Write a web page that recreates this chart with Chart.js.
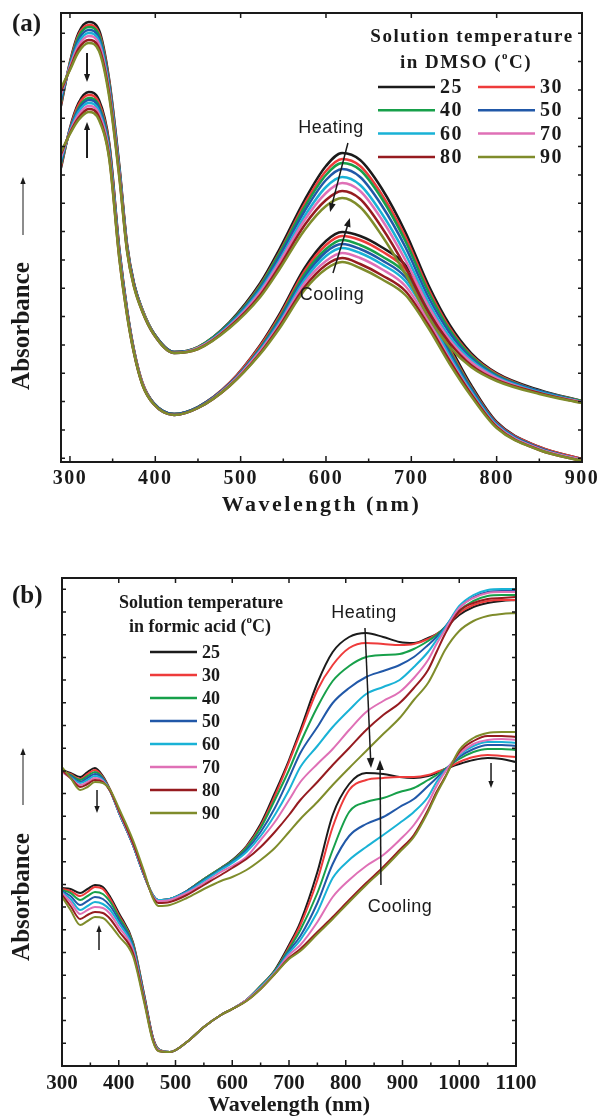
<!DOCTYPE html>
<html>
<head>
  <title>Absorbance spectra on heating and cooling</title>
  <script src="https://cdn.jsdelivr.net/npm/chart.js"></script>
  <style>
    body { margin: 0; background: #fff; }
    .wrap { position: relative; width: 602px; height: 1116px; }
    canvas { position: absolute; left: 0; }
    #chartA { top: 0; }
    #chartB { top: 530px; }
  </style>
</head>
<body>
<div class="wrap">
  <canvas id="chartA" width="602" height="530"></canvas>
  <canvas id="chartB" width="602" height="586"></canvas>
</div>

<script>
  // --- Shared series info ---
  const temps = ['25', '30', '40', '50', '60', '70', '80', '90'];
  const colors = ['#1b1b1b', '#ee3b3b', '#17a04a', '#2158a8', '#19b2d6', '#df70b6', '#961b20', '#7f8c2b'];
  const ink = '#1a1a1a';

  // --- (a) DMSO: wavelength nodes (nm) and absorbance (a.u.), one row per temperature ---
  const wlA = [289.5, 300, 310, 322, 334, 346, 358, 367, 375, 385, 398, 422, 450, 487,
               523, 545, 575, 600, 619, 640, 665, 693, 720, 745, 770, 800, 850, 900];
  const heatA = [
    [1.78, 2.00, 2.145, 2.20, 2.16, 1.91, 1.475, 1.085, 0.895, 0.76, 0.645, 0.55, 0.575, 0.70, 0.895, 1.06, 1.31, 1.48, 1.545, 1.51, 1.37, 1.15, 0.885, 0.685, 0.545, 0.445, 0.36, 0.305],
    [1.79, 1.995, 2.135, 2.185, 2.145, 1.90, 1.465, 1.08, 0.89, 0.76, 0.645, 0.55, 0.575, 0.695, 0.885, 1.045, 1.29, 1.455, 1.515, 1.48, 1.34, 1.125, 0.865, 0.67, 0.535, 0.44, 0.355, 0.305],
    [1.80, 1.99, 2.125, 2.175, 2.135, 1.89, 1.46, 1.075, 0.89, 0.76, 0.645, 0.55, 0.575, 0.695, 0.88, 1.04, 1.275, 1.435, 1.495, 1.46, 1.32, 1.105, 0.85, 0.66, 0.53, 0.435, 0.355, 0.305],
    [1.81, 1.985, 2.11, 2.16, 2.12, 1.88, 1.455, 1.07, 0.89, 0.755, 0.645, 0.55, 0.57, 0.69, 0.87, 1.025, 1.255, 1.41, 1.465, 1.425, 1.285, 1.075, 0.825, 0.645, 0.52, 0.43, 0.355, 0.30],
    [1.83, 1.98, 2.095, 2.145, 2.105, 1.865, 1.445, 1.065, 0.885, 0.755, 0.64, 0.545, 0.57, 0.685, 0.86, 1.005, 1.23, 1.375, 1.425, 1.385, 1.245, 1.04, 0.80, 0.625, 0.51, 0.425, 0.35, 0.30],
    [1.84, 1.975, 2.08, 2.13, 2.09, 1.855, 1.435, 1.06, 0.88, 0.755, 0.64, 0.545, 0.57, 0.68, 0.85, 0.995, 1.21, 1.345, 1.395, 1.355, 1.215, 1.01, 0.78, 0.61, 0.50, 0.42, 0.345, 0.30],
    [1.855, 1.965, 2.065, 2.11, 2.07, 1.84, 1.425, 1.055, 0.88, 0.75, 0.64, 0.545, 0.565, 0.675, 0.835, 0.975, 1.185, 1.31, 1.355, 1.315, 1.175, 0.975, 0.75, 0.595, 0.485, 0.41, 0.345, 0.295],
    [1.87, 1.96, 2.05, 2.095, 2.055, 1.825, 1.415, 1.05, 0.875, 0.75, 0.64, 0.545, 0.565, 0.67, 0.825, 0.96, 1.16, 1.28, 1.32, 1.275, 1.135, 0.94, 0.725, 0.575, 0.475, 0.405, 0.34, 0.295]
  ];
  const coolA = [
    [1.47, 1.67, 1.795, 1.85, 1.81, 1.595, 1.06, 0.76, 0.56, 0.395, 0.295, 0.24, 0.275, 0.395, 0.585, 0.735, 0.97, 1.105, 1.15, 1.13, 1.075, 0.985, 0.795, 0.58, 0.385, 0.20, 0.075, 0.015],
    [1.48, 1.665, 1.785, 1.835, 1.795, 1.585, 1.055, 0.755, 0.56, 0.395, 0.295, 0.24, 0.275, 0.395, 0.58, 0.725, 0.955, 1.085, 1.13, 1.11, 1.055, 0.965, 0.775, 0.565, 0.375, 0.195, 0.075, 0.015],
    [1.49, 1.66, 1.77, 1.82, 1.78, 1.575, 1.045, 0.75, 0.555, 0.39, 0.295, 0.24, 0.275, 0.39, 0.57, 0.715, 0.94, 1.065, 1.11, 1.085, 1.03, 0.945, 0.76, 0.555, 0.37, 0.19, 0.07, 0.01],
    [1.50, 1.66, 1.76, 1.81, 1.77, 1.565, 1.04, 0.75, 0.555, 0.39, 0.295, 0.24, 0.275, 0.39, 0.565, 0.705, 0.925, 1.05, 1.09, 1.065, 1.01, 0.925, 0.745, 0.545, 0.365, 0.19, 0.07, 0.01],
    [1.515, 1.655, 1.75, 1.795, 1.755, 1.55, 1.035, 0.745, 0.55, 0.39, 0.29, 0.235, 0.27, 0.385, 0.56, 0.695, 0.91, 1.03, 1.07, 1.045, 0.99, 0.905, 0.725, 0.53, 0.355, 0.185, 0.065, 0.01],
    [1.525, 1.65, 1.735, 1.78, 1.74, 1.54, 1.025, 0.74, 0.55, 0.39, 0.29, 0.235, 0.27, 0.385, 0.555, 0.685, 0.895, 1.005, 1.045, 1.02, 0.965, 0.88, 0.705, 0.515, 0.345, 0.18, 0.065, 0.01],
    [1.54, 1.645, 1.72, 1.765, 1.725, 1.525, 1.015, 0.735, 0.545, 0.385, 0.29, 0.235, 0.27, 0.38, 0.545, 0.675, 0.875, 0.985, 1.02, 0.99, 0.935, 0.855, 0.685, 0.505, 0.34, 0.175, 0.06, 0.005],
    [1.55, 1.64, 1.71, 1.75, 1.71, 1.515, 1.01, 0.73, 0.545, 0.385, 0.29, 0.235, 0.27, 0.38, 0.54, 0.665, 0.86, 0.965, 1.0, 0.97, 0.915, 0.835, 0.67, 0.49, 0.33, 0.17, 0.06, 0.005]
  ];
  const ticksA = [300, 400, 500, 600, 700, 800, 900];

  // --- (b) formic acid ---
  const wlB = [300, 315, 332, 345, 358, 372, 385, 400, 425, 445, 460, 470, 490, 520, 550, 580, 600, 625, 650,
               675, 700, 720, 750, 777, 806, 836, 866, 895, 920, 945, 960, 975, 1000, 1025, 1050, 1075, 1100];
  const heatB = [
    [1.48, 1.465, 1.445, 1.47, 1.49, 1.45, 1.38, 1.27, 1.105, 0.95, 0.855, 0.83, 0.835, 0.875, 0.935, 0.99, 1.03, 1.10, 1.21, 1.365, 1.53, 1.68, 1.915, 2.07, 2.145, 2.165, 2.145, 2.12, 2.115, 2.14, 2.16, 2.19, 2.255, 2.295, 2.315, 2.325, 2.33],
    [1.475, 1.46, 1.435, 1.46, 1.48, 1.445, 1.38, 1.27, 1.105, 0.95, 0.855, 0.83, 0.835, 0.875, 0.935, 0.99, 1.025, 1.095, 1.20, 1.35, 1.52, 1.665, 1.88, 2.005, 2.09, 2.115, 2.11, 2.105, 2.11, 2.135, 2.16, 2.19, 2.265, 2.305, 2.325, 2.33, 2.33],
    [1.475, 1.455, 1.43, 1.45, 1.47, 1.44, 1.375, 1.27, 1.105, 0.95, 0.855, 0.83, 0.835, 0.875, 0.935, 0.99, 1.025, 1.09, 1.19, 1.33, 1.48, 1.615, 1.795, 1.925, 2.00, 2.045, 2.055, 2.06, 2.085, 2.125, 2.155, 2.195, 2.275, 2.325, 2.35, 2.355, 2.355],
    [1.47, 1.45, 1.42, 1.44, 1.46, 1.435, 1.375, 1.27, 1.105, 0.95, 0.855, 0.83, 0.835, 0.875, 0.93, 0.985, 1.02, 1.08, 1.17, 1.29, 1.44, 1.565, 1.695, 1.815, 1.89, 1.945, 1.975, 2.005, 2.045, 2.105, 2.145, 2.195, 2.29, 2.345, 2.37, 2.375, 2.375],
    [1.47, 1.445, 1.415, 1.43, 1.45, 1.43, 1.375, 1.27, 1.105, 0.95, 0.855, 0.83, 0.835, 0.87, 0.925, 0.98, 1.015, 1.07, 1.15, 1.255, 1.38, 1.495, 1.60, 1.695, 1.78, 1.86, 1.895, 1.93, 1.995, 2.07, 2.13, 2.19, 2.30, 2.355, 2.38, 2.385, 2.385],
    [1.47, 1.44, 1.405, 1.42, 1.44, 1.425, 1.375, 1.275, 1.11, 0.955, 0.85, 0.825, 0.83, 0.865, 0.915, 0.97, 1.00, 1.045, 1.13, 1.22, 1.33, 1.42, 1.51, 1.585, 1.68, 1.77, 1.825, 1.87, 1.94, 2.03, 2.11, 2.18, 2.29, 2.34, 2.365, 2.37, 2.37],
    [1.48, 1.44, 1.395, 1.41, 1.43, 1.42, 1.375, 1.28, 1.115, 0.96, 0.845, 0.815, 0.82, 0.855, 0.905, 0.955, 0.99, 1.035, 1.095, 1.17, 1.255, 1.33, 1.42, 1.505, 1.59, 1.68, 1.755, 1.815, 1.89, 1.98, 2.07, 2.16, 2.275, 2.315, 2.335, 2.34, 2.345],
    [1.495, 1.44, 1.38, 1.395, 1.42, 1.415, 1.38, 1.29, 1.13, 0.97, 0.84, 0.80, 0.805, 0.84, 0.885, 0.925, 0.945, 0.98, 1.03, 1.09, 1.17, 1.235, 1.32, 1.405, 1.49, 1.575, 1.66, 1.74, 1.83, 1.915, 1.995, 2.08, 2.175, 2.225, 2.25, 2.26, 2.265]
  ];
  const coolB = [
    [0.89, 0.885, 0.865, 0.885, 0.905, 0.895, 0.845, 0.765, 0.62, 0.355, 0.145, 0.085, 0.07, 0.12, 0.195, 0.255, 0.285, 0.33, 0.40, 0.48, 0.605, 0.72, 0.97, 1.255, 1.41, 1.465, 1.46, 1.445, 1.44, 1.45, 1.465, 1.485, 1.51, 1.53, 1.54, 1.535, 1.52],
    [0.885, 0.875, 0.85, 0.87, 0.895, 0.885, 0.835, 0.755, 0.615, 0.35, 0.145, 0.085, 0.07, 0.12, 0.195, 0.255, 0.285, 0.33, 0.40, 0.475, 0.595, 0.705, 0.93, 1.195, 1.38, 1.43, 1.44, 1.445, 1.445, 1.455, 1.47, 1.485, 1.52, 1.545, 1.555, 1.55, 1.545],
    [0.88, 0.865, 0.83, 0.85, 0.87, 0.86, 0.82, 0.745, 0.61, 0.345, 0.14, 0.085, 0.07, 0.12, 0.195, 0.255, 0.285, 0.33, 0.40, 0.475, 0.585, 0.68, 0.865, 1.08, 1.27, 1.32, 1.34, 1.37, 1.39, 1.43, 1.455, 1.485, 1.535, 1.57, 1.585, 1.585, 1.58],
    [0.875, 0.85, 0.805, 0.825, 0.845, 0.835, 0.80, 0.73, 0.60, 0.34, 0.14, 0.08, 0.07, 0.12, 0.195, 0.255, 0.285, 0.33, 0.395, 0.47, 0.575, 0.65, 0.815, 1.01, 1.15, 1.21, 1.245, 1.295, 1.335, 1.40, 1.44, 1.48, 1.545, 1.585, 1.605, 1.605, 1.60],
    [0.87, 0.835, 0.78, 0.80, 0.82, 0.81, 0.78, 0.715, 0.59, 0.335, 0.135, 0.08, 0.07, 0.12, 0.195, 0.255, 0.285, 0.33, 0.395, 0.47, 0.565, 0.63, 0.77, 0.94, 1.03, 1.095, 1.155, 1.215, 1.27, 1.345, 1.42, 1.475, 1.555, 1.60, 1.62, 1.62, 1.615],
    [0.865, 0.82, 0.76, 0.78, 0.795, 0.79, 0.76, 0.695, 0.58, 0.33, 0.135, 0.08, 0.07, 0.12, 0.195, 0.255, 0.285, 0.33, 0.39, 0.465, 0.555, 0.605, 0.72, 0.845, 0.93, 1.00, 1.055, 1.13, 1.205, 1.315, 1.40, 1.47, 1.56, 1.61, 1.63, 1.635, 1.63],
    [0.855, 0.80, 0.735, 0.755, 0.77, 0.765, 0.735, 0.675, 0.565, 0.325, 0.13, 0.075, 0.07, 0.12, 0.195, 0.255, 0.285, 0.325, 0.385, 0.46, 0.54, 0.585, 0.67, 0.745, 0.83, 0.915, 0.995, 1.08, 1.155, 1.28, 1.37, 1.445, 1.57, 1.625, 1.65, 1.65, 1.645],
    [0.845, 0.78, 0.705, 0.725, 0.745, 0.74, 0.705, 0.65, 0.55, 0.315, 0.125, 0.075, 0.07, 0.12, 0.195, 0.255, 0.285, 0.325, 0.385, 0.46, 0.535, 0.575, 0.66, 0.735, 0.82, 0.905, 0.985, 1.07, 1.145, 1.27, 1.36, 1.44, 1.58, 1.64, 1.665, 1.67, 1.67]
  ];
  const ticksB = [300, 400, 500, 600, 700, 800, 900, 1000, 1100];

  // --- Helpers ---
  const serif = (size) => `bold ${size}px "Liberation Serif", "Times New Roman", serif`;
  const sans = (size) => `${size}px "Liberation Sans", Arial, sans-serif`;

  function makeSets(wl, heat, cool, width) {
    const sets = [];
    [heat, cool].forEach(group => {
      group.forEach((row, i) => {
        sets.push({
          label: temps[i],
          data: row.map((v, k) => ({ x: wl[k], y: v })),
          borderColor: colors[i],
          borderWidth: width,
          pointRadius: 0,
          fill: false,
          cubicInterpolationMode: 'monotone',
          order: temps.length - i
        });
      });
    });
    return sets;
  }

  function text(ctx, s, x, y, font, align, spacing) {
    ctx.font = font;
    ctx.letterSpacing = spacing || '0px';
    ctx.textAlign = align || 'center';
    ctx.textBaseline = 'middle';
    ctx.fillText(s, x, y);
  }

  // "pre (" + raised o + "C)" centred on cx
  function degreeText(ctx, pre, cx, cy, size, spacing) {
    ctx.letterSpacing = spacing || '0px';
    ctx.textBaseline = 'middle';
    ctx.textAlign = 'left';
    const small = serif(Math.round(size * 0.6));
    ctx.font = serif(size);
    const w1 = ctx.measureText(pre).width;
    const w3 = ctx.measureText('C)').width;
    ctx.font = small;
    const w2 = ctx.measureText('o').width;
    let x0 = cx - (w1 + w2 + w3) / 2;
    ctx.font = serif(size);
    ctx.fillText(pre, x0, cy);
    ctx.font = small;
    ctx.fillText('o', x0 + w1, cy - size * 0.38);
    ctx.font = serif(size);
    ctx.fillText('C)', x0 + w1 + w2, cy);
  }

  function arrow(ctx, x1, y1, x2, y2, lw, head) {
    const ang = Math.atan2(y2 - y1, x2 - x1);
    const c = Math.cos(ang), s = Math.sin(ang);
    ctx.lineWidth = lw;
    ctx.beginPath();
    ctx.moveTo(x1, y1);
    ctx.lineTo(x2 - c * head * 0.7, y2 - s * head * 0.7);
    ctx.stroke();
    ctx.beginPath();
    ctx.moveTo(x2, y2);
    ctx.lineTo(x2 - head * c + head * 0.38 * s, y2 - head * s - head * 0.38 * c);
    ctx.lineTo(x2 - head * c - head * 0.38 * s, y2 - head * s + head * 0.38 * c);
    ctx.closePath();
    ctx.fill();
  }

  // frame, inward ticks, legend and notes
  const decor = {
    id: 'decor',
    beforeDraw(chart, args, o) {
      chart.ctx.letterSpacing = o.tickSpacing;
    },
    afterDraw(chart, args, o) {
      const { ctx, chartArea: a } = chart;
      const xs = chart.scales.x, ys = chart.scales.y;
      ctx.save();
      ctx.letterSpacing = '0px';
      ctx.strokeStyle = ink;
      ctx.fillStyle = ink;

      ctx.lineWidth = 2;
      ctx.strokeRect(a.left, a.top, a.right - a.left, a.bottom - a.top);

      ctx.lineWidth = 1.5;
      ctx.beginPath();
      const first = o.xTicks[0], last = o.xTicks[o.xTicks.length - 1];
      for (let v = first; v <= last; v += 50) {
        const px = xs.getPixelForValue(v);
        const major = v % 100 === 0;
        ctx.moveTo(px, a.bottom);
        ctx.lineTo(px, a.bottom - (major ? 6 : 3.5));
        if (major) {
          ctx.moveTo(px, a.top);
          ctx.lineTo(px, a.top + 5);
        }
      }
      for (let v = o.yFirst; v < ys.max; v += o.yStep) {
        const py = ys.getPixelForValue(v);
        ctx.moveTo(a.left, py); ctx.lineTo(a.left + 4, py);
        ctx.moveTo(a.right, py); ctx.lineTo(a.right - 4, py);
      }
      ctx.stroke();

      // panel letter and axis titles
      text(ctx, o.panel, o.panelPos[0], o.panelPos[1], serif(25), 'left');
      text(ctx, 'Wavelength (nm)', (a.left + a.right) / 2, o.xTitleY, serif(22), 'center', o.titleSpacing);
      ctx.save();
      ctx.translate(o.yTitle[0], o.yTitle[1]);
      ctx.rotate(-Math.PI / 2);
      text(ctx, 'Absorbance', 0, 0, serif(25), 'center', '0px');
      ctx.restore();
      arrow(ctx, o.yArrow[0], o.yArrow[1], o.yArrow[0], o.yArrow[2], 1, 7);

      // legend
      const L = o.legend;
      text(ctx, 'Solution temperature', L.headX, L.headY, serif(L.headSize), 'center', L.spacing);
      degreeText(ctx, L.sub, L.subX, L.subY, L.headSize, L.spacing);
      temps.forEach((t, i) => {
        const col = i % L.cols, row = Math.floor(i / L.cols);
        const x0 = L.x + col * L.colGap, y0 = L.y + row * L.rowGap;
        ctx.strokeStyle = colors[i];
        ctx.lineWidth = 2.5;
        ctx.beginPath();
        ctx.moveTo(x0, y0);
        ctx.lineTo(x0 + L.lineLen, y0);
        ctx.stroke();
        ctx.fillStyle = ink;
        text(ctx, t, x0 + L.lineLen + 5, y0 + 1, serif(L.size), 'left', L.spacing);
      });

      // heating / cooling notes and arrows, placed in data units
      ctx.strokeStyle = ink;
      ctx.fillStyle = ink;
      o.notes.forEach(n => {
        text(ctx, n[0], xs.getPixelForValue(n[1]), ys.getPixelForValue(n[2]), sans(18), 'center', '0.5px');
      });
      o.arrows.forEach(r => {
        arrow(ctx, xs.getPixelForValue(r[0]), ys.getPixelForValue(r[1]),
              xs.getPixelForValue(r[2]), ys.getPixelForValue(r[3]), r[4], r[5]);
      });
      ctx.restore();
    }
  };

  function buildChart(id, cfg) {
    return new Chart(document.getElementById(id), {
      type: 'line',
      data: { datasets: makeSets(cfg.wl, cfg.heat, cfg.cool, cfg.lineWidth) },
      options: {
        responsive: false,
        animation: false,
        devicePixelRatio: 1,
        layout: { padding: cfg.padding },
        scales: {
          x: {
            type: 'linear',
            min: cfg.xMin,
            max: cfg.xMax,
            afterBuildTicks: s => { s.ticks = cfg.ticks.map(v => ({ value: v })); },
            ticks: {
              font: { family: '"Liberation Serif", "Times New Roman", serif', weight: 'bold', size: cfg.tickSize },
              color: ink,
              padding: cfg.tickPad,
              maxRotation: 0,
              autoSkip: false,
              callback: v => String(v)
            },
            grid: { display: false, drawTicks: false },
            border: { display: false },
            afterFit: s => { s.height = cfg.xHeight; }
          },
          y: {
            min: 0,
            max: cfg.yMax,
            ticks: { display: false },
            grid: { display: false, drawTicks: false },
            border: { display: false },
            afterFit: s => { s.width = cfg.yWidth; }
          }
        },
        plugins: {
          legend: { display: false },
          tooltip: { enabled: false },
          decor: cfg.decor
        }
      },
      plugins: [decor]
    });
  }

  // --- Panel (a) ---
  buildChart('chartA', {
    wl: wlA, heat: heatA, cool: coolA, lineWidth: 2.5,
    xMin: 289.5, xMax: 900, ticks: ticksA, yMax: 2.245,
    padding: { left: 0, right: 16, top: 13, bottom: 0 },
    xHeight: 68, yWidth: 61, tickSize: 20, tickPad: 5,
    decor: {
      tickSpacing: '1.5px', titleSpacing: '2.5px',
      xTicks: ticksA, yFirst: 0.0185, yStep: 0.1417,
      panel: '(a)', panelPos: [12, 25], xTitleY: 505,
      yTitle: [23, 326], yArrow: [23, 235, 177],
      legend: {
        headX: 472, headY: 37, subX: 466, subY: 63, headSize: 19, sub: 'in DMSO (',
        spacing: '1.5px', x: 378, y: 87, cols: 2, colGap: 100, rowGap: 23.3, lineLen: 57, size: 20
      },
      notes: [['Heating', 605.9, 1.67], ['Cooling', 607, 0.835]],
      arrows: [
        [625.7, 1.595, 604.8, 1.25, 1.5, 9],
        [608.2, 0.945, 628, 1.22, 1.5, 9],
        [320, 2.045, 320, 1.90, 2, 8],
        [320, 1.52, 320, 1.70, 2, 8]
      ]
    }
  });

  // --- Panel (b) ---
  buildChart('chartB', {
    wl: wlB, heat: heatB, cool: coolB, lineWidth: 2,
    xMin: 300, xMax: 1100, ticks: ticksB, yMax: 2.44,
    padding: { left: 0, right: 86, top: 48, bottom: 0 },
    xHeight: 50, yWidth: 62, tickSize: 21, tickPad: 5,
    decor: {
      tickSpacing: '0px', titleSpacing: '0px',
      xTicks: ticksB, yFirst: 0, yStep: 0.1135,
      panel: '(b)', panelPos: [12, 67], xTitleY: 575,
      yTitle: [23, 367], yArrow: [23, 275, 218],
      legend: {
        headX: 201, headY: 73, subX: 200, subY: 97, headSize: 18, sub: 'in formic acid (',
        spacing: '0px', x: 150, y: 122, cols: 1, colGap: 0, rowGap: 23, lineLen: 47, size: 18
      },
      notes: [['Heating', 832, 2.265], ['Cooling', 895.6, 0.795]],
      arrows: [
        [833.9, 2.19, 844.5, 1.49, 1.5, 10],
        [862, 0.905, 860.4, 1.53, 1.5, 10],
        [361.7, 1.38, 361.7, 1.265, 1.5, 7],
        [365.2, 0.58, 365.2, 0.705, 1.5, 7],
        [1056, 1.515, 1056, 1.39, 1.5, 7]
      ]
    }
  });
</script>
</body>
</html>
